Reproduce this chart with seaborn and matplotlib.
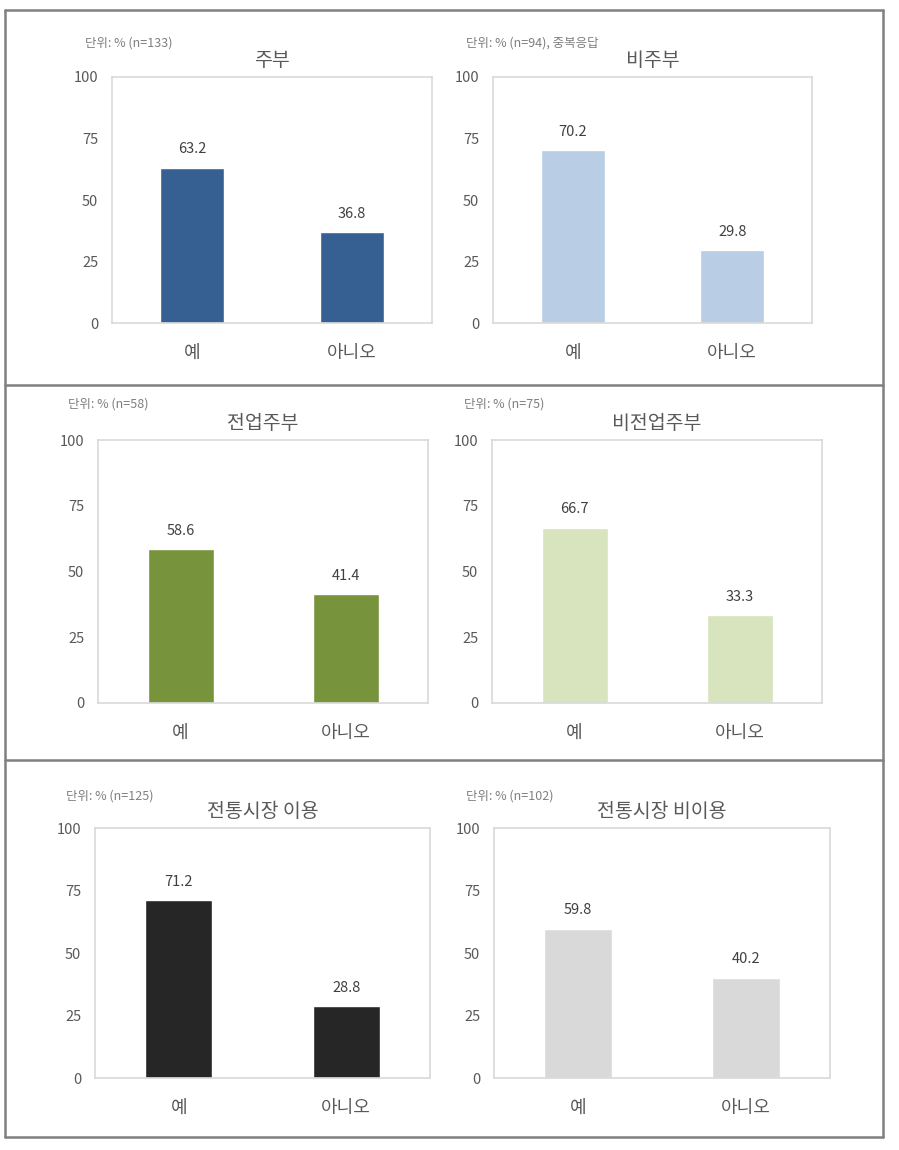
import matplotlib
matplotlib.use('Agg')
import matplotlib.pyplot as plt
import seaborn as sns
import pandas as pd
from matplotlib.lines import Line2D

sns.set_theme(style='white')
plt.rcParams['font.family'] = ['Noto Sans CJK KR', 'DejaVu Sans']

# ---- data ----
categories = ['예', '아니오']
homemaker = [63.2, 36.8]
non_homemaker = [70.2, 29.8]
fulltime_homemaker = [58.6, 41.4]
nonfulltime_homemaker = [66.7, 33.3]
market_users = [71.2, 28.8]
market_nonusers = [59.8, 40.2]
titles = ['주부', '비주부', '전업주부', '비전업주부', '전통시장 이용', '전통시장 비이용']
notes = ['단위: % (n=133)', '단위: % (n=94), 중복응답', '단위: % (n=58)',
         '단위: % (n=75)', '단위: % (n=125)', '단위: % (n=102)']
y_ticks = [0, 25, 50, 75, 100]

series = [homemaker, non_homemaker, fulltime_homemaker,
          nonfulltime_homemaker, market_users, market_nonusers]

# ---- layout / style ----
W, H = 899, 1150
fig = plt.figure(figsize=(W / 100, H / 100), dpi=100)

boxes = [(112, 77, 432, 323), (493, 77, 812, 323),
         (98, 440, 428, 703), (492, 440, 822, 703),
         (95, 828, 430, 1078), (494, 828, 830, 1078)]
note_pos = [(85, 43), (466, 43), (68, 404), (464, 404), (66, 796), (466, 796)]
colors = ['#376092', '#b9cde5', '#77933c', '#d7e4bd', '#262626', '#d9d9d9']

for vals, title, note, (x0, y0, x1, y1), (nx, ny), c in zip(
        series, titles, notes, boxes, note_pos, colors):
    ax = fig.add_axes([x0 / W, 1 - y1 / H, (x1 - x0) / W, (y1 - y0) / H])
    df = pd.DataFrame({'cat': categories, 'val': vals})
    sns.barplot(data=df, x='cat', y='val', color=c, width=0.4,
                saturation=1, ax=ax, errorbar=None)
    ax.set_ylim(0, 100)
    ax.set_yticks(y_ticks)
    ax.set_xlim(-0.5, 1.5)
    for sp in ax.spines.values():
        sp.set_color('#d9d9d9')
        sp.set_linewidth(1.2)
    ax.tick_params(axis='y', length=0, pad=10, labelsize=10.5, colors='#595959')
    ax.tick_params(axis='x', length=0, pad=15, labelsize=13, colors='#595959')
    ax.set_xlabel('')
    ax.set_ylabel('')
    ax.set_title(title, fontsize=14, color='#595959', pad=8, fontweight='light')
    ax.bar_label(ax.containers[0], labels=[f'{v:.1f}' for v in vals],
                 padding=8, fontsize=10.5, color='#404040')
    fig.text(nx / W, 1 - ny / H, note, fontsize=9, color='#7f7f7f',
             va='center', ha='left')

# ---- frame ----
fc = '#808080'
lw = 1.8
xl, xr = 5 / W, 883 / W
yt, yb = 1 - 10 / H, 1 - 1137 / H
for (xa, ya, xb, yb2) in [(xl, yt, xr, yt), (xl, yb, xr, yb), (xl, yt, xl, yb),
                          (xr, yt, xr, yb), (xl, 1 - 385 / H, xr, 1 - 385 / H),
                          (xl, 1 - 760 / H, xr, 1 - 760 / H)]:
    fig.add_artist(Line2D([xa, xb], [ya, yb2], color=fc, lw=lw,
                          transform=fig.transFigure))

fig.savefig('out.png', dpi=100, facecolor='white')
